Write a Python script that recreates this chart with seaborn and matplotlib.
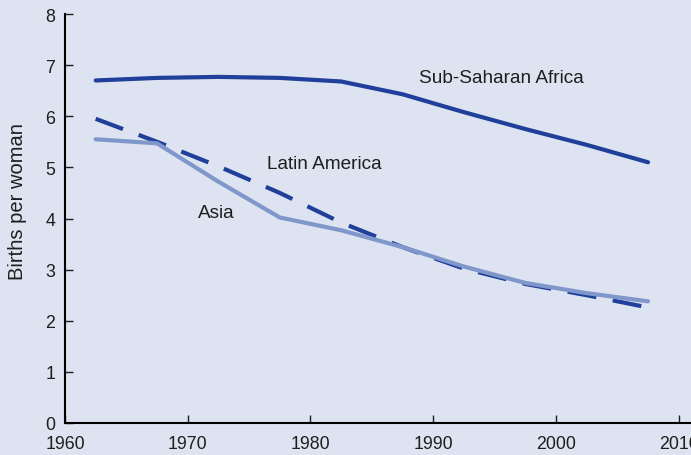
import pandas as pd
import matplotlib
matplotlib.use("Agg")
import matplotlib.pyplot as plt
import seaborn as sns

# Five-year period midpoints
years = [1962.5, 1967.5, 1972.5, 1977.5, 1982.5, 1987.5, 1992.5, 1997.5, 2002.5, 2007.5]
sub_saharan = [6.70, 6.75, 6.77, 6.75, 6.68, 6.43, 6.08, 5.75, 5.44, 5.10]
latin_america = [5.95, 5.50, 5.02, 4.50, 3.92, 3.44, 3.02, 2.72, 2.50, 2.26]
asia = [5.55, 5.47, 4.72, 4.02, 3.77, 3.44, 3.06, 2.74, 2.54, 2.38]

regions = ["Sub-Saharan Africa", "Latin America", "Asia"]

df = pd.DataFrame({
    "Year": years * 3,
    "Births": sub_saharan + latin_america + asia,
    "Region": [r for r in regions for _ in years],
})

bg = "#dde3f0"
txt = "#1e1e1e"
sns.set_theme(style="ticks", rc={"axes.facecolor": bg, "figure.facecolor": bg})
plt.rcParams["font.family"] = ["Liberation Sans", "DejaVu Sans"]

fig = plt.figure(figsize=(6.91, 4.56), dpi=100)
ax = fig.add_axes([65 / 691, 32 / 456, 1 - 65 / 691, (424 - 15) / 456])

palette = {"Sub-Saharan Africa": "#1f3f9a", "Latin America": "#1f3f9a", "Asia": "#7f97ca"}
dashes = {"Sub-Saharan Africa": "", "Latin America": (7, 4), "Asia": ""}
sns.lineplot(data=df, x="Year", y="Births", hue="Region", style="Region",
             palette=palette, dashes=dashes, linewidth=3, legend=False, ax=ax)

ax.set_xlim(1960, 2011)
ax.set_ylim(0, 8)
ax.set_xticks([1960, 1970, 1980, 1990, 2000, 2010])
ax.set_yticks(range(0, 9))
ax.set_xlabel("")
ax.set_ylabel("Births per woman", fontsize=14.5, color=txt)
ax.yaxis.set_label_coords(-0.061, 0.545)
ax.tick_params(direction="in", length=6, width=1, labelsize=12.8, colors=txt)
ax.tick_params(axis="x", pad=9)
ax.tick_params(axis="y", pad=7)
sns.despine(ax=ax)
for s in ["left", "bottom"]:
    ax.spines[s].set_color("black")
    ax.spines[s].set_linewidth(1.5)

ax.text(1988.85, 6.76, "Sub-Saharan Africa", fontsize=13.7, color=txt, va="center")
ax.text(1976.46, 5.08, "Latin America", fontsize=13.7, color=txt, va="center")
ax.text(1970.84, 4.12, "Asia", fontsize=13.7, color=txt, va="center")

fig.savefig("out.png", dpi=100, facecolor=bg)
